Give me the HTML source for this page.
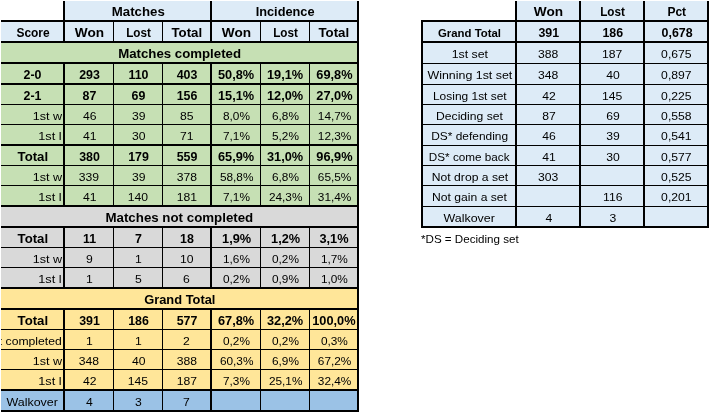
<!DOCTYPE html>
<html><head><meta charset="utf-8"><title>Match statistics</title><style>
html,body{margin:0;padding:0;background:#fff;}
body{width:709px;height:412px;position:relative;overflow:hidden;font-family:"Liberation Sans",sans-serif;color:#000;}
#tx{position:absolute;left:0;top:0;width:709px;height:412px;will-change:transform;}
.r{position:absolute;}
.t{position:absolute;height:19px;line-height:19px;white-space:nowrap;overflow:hidden;}
.t span{display:inline-block;}
.b{font-weight:bold;font-size:12.4px;}
.n{font-size:11.6px;color:#000;}
</style></head><body>
<div class="r" style="left:65px;top:1px;width:292px;height:21px;background:#DDEBF7"></div>
<div class="r" style="left:1px;top:20px;width:356px;height:23px;background:#DDEBF7"></div>
<div class="r" style="left:1px;top:41px;width:356px;height:23px;background:#C6E0B4"></div>
<div class="r" style="left:1px;top:62px;width:356px;height:23px;background:#C6E0B4"></div>
<div class="r" style="left:1px;top:83px;width:356px;height:22px;background:#C6E0B4"></div>
<div class="r" style="left:1px;top:104px;width:356px;height:21px;background:#C6E0B4"></div>
<div class="r" style="left:1px;top:124px;width:356px;height:22px;background:#C6E0B4"></div>
<div class="r" style="left:1px;top:144px;width:356px;height:22px;background:#C6E0B4"></div>
<div class="r" style="left:1px;top:165px;width:356px;height:21px;background:#C6E0B4"></div>
<div class="r" style="left:1px;top:185px;width:356px;height:22px;background:#C6E0B4"></div>
<div class="r" style="left:1px;top:205px;width:356px;height:23px;background:#D9D9D9"></div>
<div class="r" style="left:1px;top:226px;width:356px;height:22px;background:#D9D9D9"></div>
<div class="r" style="left:1px;top:247px;width:356px;height:21px;background:#D9D9D9"></div>
<div class="r" style="left:1px;top:267px;width:356px;height:22px;background:#D9D9D9"></div>
<div class="r" style="left:1px;top:287px;width:356px;height:23px;background:#FFE699"></div>
<div class="r" style="left:1px;top:308px;width:356px;height:22px;background:#FFE699"></div>
<div class="r" style="left:1px;top:329px;width:356px;height:21px;background:#FFE699"></div>
<div class="r" style="left:1px;top:349px;width:356px;height:21px;background:#FFE699"></div>
<div class="r" style="left:1px;top:369px;width:356px;height:22px;background:#FFE699"></div>
<div class="r" style="left:1px;top:389px;width:356px;height:23px;background:#9BC2E6"></div>
<div class="r" style="left:1px;top:20px;width:358px;height:2px;background:#000"></div>
<div class="r" style="left:1px;top:41px;width:358px;height:2px;background:#000"></div>
<div class="r" style="left:1px;top:62px;width:358px;height:2px;background:#000"></div>
<div class="r" style="left:1px;top:83px;width:358px;height:2px;background:#000"></div>
<div class="r" style="left:1px;top:104px;width:358px;height:1px;background:#000"></div>
<div class="r" style="left:1px;top:124px;width:358px;height:1px;background:#000"></div>
<div class="r" style="left:1px;top:144px;width:358px;height:2px;background:#000"></div>
<div class="r" style="left:1px;top:165px;width:358px;height:1px;background:#000"></div>
<div class="r" style="left:1px;top:185px;width:358px;height:1px;background:#000"></div>
<div class="r" style="left:1px;top:205px;width:358px;height:2px;background:#000"></div>
<div class="r" style="left:1px;top:226px;width:358px;height:2px;background:#000"></div>
<div class="r" style="left:1px;top:247px;width:358px;height:1px;background:#000"></div>
<div class="r" style="left:1px;top:267px;width:358px;height:1px;background:#000"></div>
<div class="r" style="left:1px;top:287px;width:358px;height:2px;background:#000"></div>
<div class="r" style="left:1px;top:308px;width:358px;height:2px;background:#000"></div>
<div class="r" style="left:1px;top:329px;width:358px;height:1px;background:#000"></div>
<div class="r" style="left:1px;top:349px;width:358px;height:1px;background:#000"></div>
<div class="r" style="left:1px;top:369px;width:358px;height:1px;background:#000"></div>
<div class="r" style="left:1px;top:389px;width:358px;height:2px;background:#000"></div>
<div class="r" style="left:1px;top:410px;width:358px;height:2px;background:#000"></div>
<div class="r" style="left:63px;top:1px;width:2px;height:21px;background:#000"></div>
<div class="r" style="left:63px;top:20px;width:2px;height:23px;background:#000"></div>
<div class="r" style="left:63px;top:62px;width:2px;height:23px;background:#000"></div>
<div class="r" style="left:63px;top:83px;width:2px;height:22px;background:#000"></div>
<div class="r" style="left:63px;top:104px;width:2px;height:21px;background:#000"></div>
<div class="r" style="left:63px;top:124px;width:2px;height:22px;background:#000"></div>
<div class="r" style="left:63px;top:144px;width:2px;height:22px;background:#000"></div>
<div class="r" style="left:63px;top:165px;width:2px;height:21px;background:#000"></div>
<div class="r" style="left:63px;top:185px;width:2px;height:22px;background:#000"></div>
<div class="r" style="left:63px;top:226px;width:2px;height:22px;background:#000"></div>
<div class="r" style="left:63px;top:247px;width:2px;height:21px;background:#000"></div>
<div class="r" style="left:63px;top:267px;width:2px;height:22px;background:#000"></div>
<div class="r" style="left:63px;top:308px;width:2px;height:22px;background:#000"></div>
<div class="r" style="left:63px;top:329px;width:2px;height:21px;background:#000"></div>
<div class="r" style="left:63px;top:349px;width:2px;height:21px;background:#000"></div>
<div class="r" style="left:63px;top:369px;width:2px;height:22px;background:#000"></div>
<div class="r" style="left:63px;top:389px;width:2px;height:23px;background:#000"></div>
<div class="r" style="left:113px;top:20px;width:1px;height:23px;background:#000"></div>
<div class="r" style="left:113px;top:62px;width:1px;height:23px;background:#000"></div>
<div class="r" style="left:113px;top:83px;width:1px;height:22px;background:#000"></div>
<div class="r" style="left:113px;top:104px;width:1px;height:21px;background:#000"></div>
<div class="r" style="left:113px;top:124px;width:1px;height:22px;background:#000"></div>
<div class="r" style="left:113px;top:144px;width:1px;height:22px;background:#000"></div>
<div class="r" style="left:113px;top:165px;width:1px;height:21px;background:#000"></div>
<div class="r" style="left:113px;top:185px;width:1px;height:22px;background:#000"></div>
<div class="r" style="left:113px;top:226px;width:1px;height:22px;background:#000"></div>
<div class="r" style="left:113px;top:247px;width:1px;height:21px;background:#000"></div>
<div class="r" style="left:113px;top:267px;width:1px;height:22px;background:#000"></div>
<div class="r" style="left:113px;top:308px;width:1px;height:22px;background:#000"></div>
<div class="r" style="left:113px;top:329px;width:1px;height:21px;background:#000"></div>
<div class="r" style="left:113px;top:349px;width:1px;height:21px;background:#000"></div>
<div class="r" style="left:113px;top:369px;width:1px;height:22px;background:#000"></div>
<div class="r" style="left:113px;top:389px;width:1px;height:23px;background:#000"></div>
<div class="r" style="left:162px;top:20px;width:1px;height:23px;background:#000"></div>
<div class="r" style="left:162px;top:62px;width:1px;height:23px;background:#000"></div>
<div class="r" style="left:162px;top:83px;width:1px;height:22px;background:#000"></div>
<div class="r" style="left:162px;top:104px;width:1px;height:21px;background:#000"></div>
<div class="r" style="left:162px;top:124px;width:1px;height:22px;background:#000"></div>
<div class="r" style="left:162px;top:144px;width:1px;height:22px;background:#000"></div>
<div class="r" style="left:162px;top:165px;width:1px;height:21px;background:#000"></div>
<div class="r" style="left:162px;top:185px;width:1px;height:22px;background:#000"></div>
<div class="r" style="left:162px;top:226px;width:1px;height:22px;background:#000"></div>
<div class="r" style="left:162px;top:247px;width:1px;height:21px;background:#000"></div>
<div class="r" style="left:162px;top:267px;width:1px;height:22px;background:#000"></div>
<div class="r" style="left:162px;top:308px;width:1px;height:22px;background:#000"></div>
<div class="r" style="left:162px;top:329px;width:1px;height:21px;background:#000"></div>
<div class="r" style="left:162px;top:349px;width:1px;height:21px;background:#000"></div>
<div class="r" style="left:162px;top:369px;width:1px;height:22px;background:#000"></div>
<div class="r" style="left:162px;top:389px;width:1px;height:23px;background:#000"></div>
<div class="r" style="left:210px;top:1px;width:2px;height:21px;background:#000"></div>
<div class="r" style="left:210px;top:20px;width:2px;height:23px;background:#000"></div>
<div class="r" style="left:210px;top:62px;width:2px;height:23px;background:#000"></div>
<div class="r" style="left:210px;top:83px;width:2px;height:22px;background:#000"></div>
<div class="r" style="left:210px;top:104px;width:2px;height:21px;background:#000"></div>
<div class="r" style="left:210px;top:124px;width:2px;height:22px;background:#000"></div>
<div class="r" style="left:210px;top:144px;width:2px;height:22px;background:#000"></div>
<div class="r" style="left:210px;top:165px;width:2px;height:21px;background:#000"></div>
<div class="r" style="left:210px;top:185px;width:2px;height:22px;background:#000"></div>
<div class="r" style="left:210px;top:226px;width:2px;height:22px;background:#000"></div>
<div class="r" style="left:210px;top:247px;width:2px;height:21px;background:#000"></div>
<div class="r" style="left:210px;top:267px;width:2px;height:22px;background:#000"></div>
<div class="r" style="left:210px;top:308px;width:2px;height:22px;background:#000"></div>
<div class="r" style="left:210px;top:329px;width:2px;height:21px;background:#000"></div>
<div class="r" style="left:210px;top:349px;width:2px;height:21px;background:#000"></div>
<div class="r" style="left:210px;top:369px;width:2px;height:22px;background:#000"></div>
<div class="r" style="left:210px;top:389px;width:2px;height:23px;background:#000"></div>
<div class="r" style="left:260px;top:20px;width:1px;height:23px;background:#000"></div>
<div class="r" style="left:260px;top:62px;width:1px;height:23px;background:#000"></div>
<div class="r" style="left:260px;top:83px;width:1px;height:22px;background:#000"></div>
<div class="r" style="left:260px;top:104px;width:1px;height:21px;background:#000"></div>
<div class="r" style="left:260px;top:124px;width:1px;height:22px;background:#000"></div>
<div class="r" style="left:260px;top:144px;width:1px;height:22px;background:#000"></div>
<div class="r" style="left:260px;top:165px;width:1px;height:21px;background:#000"></div>
<div class="r" style="left:260px;top:185px;width:1px;height:22px;background:#000"></div>
<div class="r" style="left:260px;top:226px;width:1px;height:22px;background:#000"></div>
<div class="r" style="left:260px;top:247px;width:1px;height:21px;background:#000"></div>
<div class="r" style="left:260px;top:267px;width:1px;height:22px;background:#000"></div>
<div class="r" style="left:260px;top:308px;width:1px;height:22px;background:#000"></div>
<div class="r" style="left:260px;top:329px;width:1px;height:21px;background:#000"></div>
<div class="r" style="left:260px;top:349px;width:1px;height:21px;background:#000"></div>
<div class="r" style="left:260px;top:369px;width:1px;height:22px;background:#000"></div>
<div class="r" style="left:260px;top:389px;width:1px;height:23px;background:#000"></div>
<div class="r" style="left:309px;top:20px;width:1px;height:23px;background:#000"></div>
<div class="r" style="left:309px;top:62px;width:1px;height:23px;background:#000"></div>
<div class="r" style="left:309px;top:83px;width:1px;height:22px;background:#000"></div>
<div class="r" style="left:309px;top:104px;width:1px;height:21px;background:#000"></div>
<div class="r" style="left:309px;top:124px;width:1px;height:22px;background:#000"></div>
<div class="r" style="left:309px;top:144px;width:1px;height:22px;background:#000"></div>
<div class="r" style="left:309px;top:165px;width:1px;height:21px;background:#000"></div>
<div class="r" style="left:309px;top:185px;width:1px;height:22px;background:#000"></div>
<div class="r" style="left:309px;top:226px;width:1px;height:22px;background:#000"></div>
<div class="r" style="left:309px;top:247px;width:1px;height:21px;background:#000"></div>
<div class="r" style="left:309px;top:267px;width:1px;height:22px;background:#000"></div>
<div class="r" style="left:309px;top:308px;width:1px;height:22px;background:#000"></div>
<div class="r" style="left:309px;top:329px;width:1px;height:21px;background:#000"></div>
<div class="r" style="left:309px;top:349px;width:1px;height:21px;background:#000"></div>
<div class="r" style="left:309px;top:369px;width:1px;height:22px;background:#000"></div>
<div class="r" style="left:309px;top:389px;width:1px;height:23px;background:#000"></div>
<div class="r" style="left:357px;top:1px;width:2px;height:21px;background:#000"></div>
<div class="r" style="left:357px;top:20px;width:2px;height:23px;background:#000"></div>
<div class="r" style="left:357px;top:41px;width:2px;height:23px;background:#000"></div>
<div class="r" style="left:357px;top:62px;width:2px;height:23px;background:#000"></div>
<div class="r" style="left:357px;top:83px;width:2px;height:22px;background:#000"></div>
<div class="r" style="left:357px;top:104px;width:2px;height:21px;background:#000"></div>
<div class="r" style="left:357px;top:124px;width:2px;height:22px;background:#000"></div>
<div class="r" style="left:357px;top:144px;width:2px;height:22px;background:#000"></div>
<div class="r" style="left:357px;top:165px;width:2px;height:21px;background:#000"></div>
<div class="r" style="left:357px;top:185px;width:2px;height:22px;background:#000"></div>
<div class="r" style="left:357px;top:205px;width:2px;height:23px;background:#000"></div>
<div class="r" style="left:357px;top:226px;width:2px;height:22px;background:#000"></div>
<div class="r" style="left:357px;top:247px;width:2px;height:21px;background:#000"></div>
<div class="r" style="left:357px;top:267px;width:2px;height:22px;background:#000"></div>
<div class="r" style="left:357px;top:287px;width:2px;height:23px;background:#000"></div>
<div class="r" style="left:357px;top:308px;width:2px;height:22px;background:#000"></div>
<div class="r" style="left:357px;top:329px;width:2px;height:21px;background:#000"></div>
<div class="r" style="left:357px;top:349px;width:2px;height:21px;background:#000"></div>
<div class="r" style="left:357px;top:369px;width:2px;height:22px;background:#000"></div>
<div class="r" style="left:357px;top:389px;width:2px;height:23px;background:#000"></div>
<div class="r" style="left:515px;top:1px;width:194px;height:20px;background:#DDEBF7"></div>
<div class="r" style="left:421px;top:20px;width:288px;height:208px;background:#DDEBF7"></div>
<div class="r" style="left:421px;top:20px;width:288px;height:2px;background:#000"></div>
<div class="r" style="left:421px;top:41px;width:288px;height:2px;background:#000"></div>
<div class="r" style="left:421px;top:63px;width:288px;height:1px;background:#000"></div>
<div class="r" style="left:421px;top:84px;width:288px;height:1px;background:#000"></div>
<div class="r" style="left:421px;top:104px;width:288px;height:1px;background:#000"></div>
<div class="r" style="left:421px;top:124px;width:288px;height:1px;background:#000"></div>
<div class="r" style="left:421px;top:145px;width:288px;height:1px;background:#000"></div>
<div class="r" style="left:421px;top:165px;width:288px;height:1px;background:#000"></div>
<div class="r" style="left:421px;top:185px;width:288px;height:1px;background:#000"></div>
<div class="r" style="left:421px;top:206px;width:288px;height:1px;background:#000"></div>
<div class="r" style="left:421px;top:226px;width:288px;height:2px;background:#000"></div>
<div class="r" style="left:421px;top:20px;width:2px;height:208px;background:#000"></div>
<div class="r" style="left:515px;top:1px;width:2px;height:227px;background:#000"></div>
<div class="r" style="left:579px;top:1px;width:2px;height:227px;background:#000"></div>
<div class="r" style="left:643px;top:1px;width:2px;height:227px;background:#000"></div>
<div class="r" style="left:707px;top:1px;width:2px;height:227px;background:#000"></div>
<div id="tx">
<div class="t b" style="left:65px;top:3.0px;width:145px;text-align:center"><span id="t0" style="transform:translateX(0.50px) scaleX(1.0670);transform-origin:center center;">Matches</span></div>
<div class="t b" style="left:212px;top:3.0px;width:145px;text-align:center"><span id="t1" style="transform:translateX(0.50px) scaleX(1.0300);transform-origin:center center;">Incidence</span></div>
<div class="t b" style="left:1px;top:24.0px;width:62px;text-align:center"><span id="t2" style="transform:translateX(0.80px) scaleX(0.9650);transform-origin:center center;">Score</span></div>
<div class="t b" style="left:65px;top:24.0px;width:48px;text-align:center"><span id="t3" style="transform:translateX(0.20px) scaleX(1.1000);transform-origin:center center;">Won</span></div>
<div class="t b" style="left:114px;top:24.0px;width:48px;text-align:center"><span id="t4" style="transform:translateX(0.50px) scaleX(0.9460);transform-origin:center center;">Lost</span></div>
<div class="t b" style="left:163px;top:24.0px;width:47px;text-align:center"><span id="t5" style="transform:translateX(0.50px) scaleX(1.0700);transform-origin:center center;">Total</span></div>
<div class="t b" style="left:212px;top:24.0px;width:48px;text-align:center"><span id="t6" style="transform:translateX(0.20px) scaleX(1.1000);transform-origin:center center;">Won</span></div>
<div class="t b" style="left:261px;top:24.0px;width:48px;text-align:center"><span id="t7" style="transform:translateX(0.50px) scaleX(0.9460);transform-origin:center center;">Lost</span></div>
<div class="t b" style="left:310px;top:24.0px;width:47px;text-align:center"><span id="t8" style="transform:translateX(0.50px) scaleX(1.0700);transform-origin:center center;">Total</span></div>
<div class="t b" style="left:1px;top:45.0px;width:356px;text-align:center"><span id="t9" style="transform:translateX(0.10px) scaleX(1.0680);transform-origin:center center;">Matches completed</span></div>
<div class="t b" style="left:1px;top:209.0px;width:356px;text-align:center"><span id="t10" style="transform:translateX(0.50px) scaleX(1.0730);transform-origin:center center;">Matches not completed</span></div>
<div class="t b" style="left:1px;top:291.0px;width:356px;text-align:center"><span id="t11" style="transform:translateX(0.50px) scaleX(1.0380);transform-origin:center center;">Grand Total</span></div>
<div class="t b" style="left:1px;top:66.0px;width:62px;text-align:center"><span id="t12" style="transform:translateX(0.50px) scaleX(1.0000);transform-origin:center center;">2-0</span></div>
<div class="t b" style="left:65px;top:66.0px;width:48px;text-align:center"><span id="t13" style="transform:translateX(0.50px) scaleX(1.0000);transform-origin:center center;">293</span></div>
<div class="t b" style="left:114px;top:66.0px;width:48px;text-align:center"><span id="t14" style="transform:translateX(0.50px) scaleX(1.0000);transform-origin:center center;">110</span></div>
<div class="t b" style="left:163px;top:66.0px;width:47px;text-align:center"><span id="t15" style="transform:translateX(0.50px) scaleX(1.0000);transform-origin:center center;">403</span></div>
<div class="t b" style="left:212px;top:66.0px;width:48px;text-align:center"><span id="t16" style="transform:translateX(0.50px) scaleX(1.0300);transform-origin:center center;">50,8%</span></div>
<div class="t b" style="left:261px;top:66.0px;width:48px;text-align:center"><span id="t17" style="transform:translateX(0.50px) scaleX(1.0300);transform-origin:center center;">19,1%</span></div>
<div class="t b" style="left:310px;top:66.0px;width:47px;text-align:center"><span id="t18" style="transform:translateX(0.90px) scaleX(1.0300);transform-origin:center center;">69,8%</span></div>
<div class="t b" style="left:1px;top:87.0px;width:62px;text-align:center"><span id="t19" style="transform:translateX(0.50px) scaleX(1.0000);transform-origin:center center;">2-1</span></div>
<div class="t b" style="left:65px;top:87.0px;width:48px;text-align:center"><span id="t20" style="transform:translateX(0.50px) scaleX(1.0000);transform-origin:center center;">87</span></div>
<div class="t b" style="left:114px;top:87.0px;width:48px;text-align:center"><span id="t21" style="transform:translateX(0.50px) scaleX(1.0000);transform-origin:center center;">69</span></div>
<div class="t b" style="left:163px;top:87.0px;width:47px;text-align:center"><span id="t22" style="transform:translateX(0.50px) scaleX(1.0000);transform-origin:center center;">156</span></div>
<div class="t b" style="left:212px;top:87.0px;width:48px;text-align:center"><span id="t23" style="transform:translateX(0.50px) scaleX(1.0300);transform-origin:center center;">15,1%</span></div>
<div class="t b" style="left:261px;top:87.0px;width:48px;text-align:center"><span id="t24" style="transform:translateX(0.50px) scaleX(1.0300);transform-origin:center center;">12,0%</span></div>
<div class="t b" style="left:310px;top:87.0px;width:47px;text-align:center"><span id="t25" style="transform:translateX(0.90px) scaleX(1.0300);transform-origin:center center;">27,0%</span></div>
<div class="t n" style="left:1px;top:106.0px;width:62px;text-align:right"><span id="t26" style="position:absolute;right:1px;top:0;transform:translateX(0.00px) scaleX(1.0850);transform-origin:right center;">1st w</span></div>
<div class="t n" style="left:65px;top:106.0px;width:48px;text-align:center"><span id="t27" style="transform:translateX(0.25px) scaleX(1.0500);transform-origin:center center;">46</span></div>
<div class="t n" style="left:114px;top:106.0px;width:48px;text-align:center"><span id="t28" style="transform:translateX(0.25px) scaleX(1.0500);transform-origin:center center;">39</span></div>
<div class="t n" style="left:163px;top:106.0px;width:47px;text-align:center"><span id="t29" style="transform:translateX(0.25px) scaleX(1.0500);transform-origin:center center;">85</span></div>
<div class="t n" style="left:212px;top:106.0px;width:48px;text-align:center"><span id="t30" style="transform:translateX(0.25px) scaleX(1.0200);transform-origin:center center;">8,0%</span></div>
<div class="t n" style="left:261px;top:106.0px;width:48px;text-align:center"><span id="t31" style="transform:translateX(0.25px) scaleX(1.0200);transform-origin:center center;">6,8%</span></div>
<div class="t n" style="left:310px;top:106.0px;width:47px;text-align:center"><span id="t32" style="transform:translateX(1.15px) scaleX(1.0200);transform-origin:center center;">14,7%</span></div>
<div class="t n" style="left:1px;top:126.0px;width:62px;text-align:right"><span id="t33" style="position:absolute;right:1px;top:0;transform:translateX(-0.70px) scaleX(1.1000);transform-origin:right center;">1st l</span></div>
<div class="t n" style="left:65px;top:126.0px;width:48px;text-align:center"><span id="t34" style="transform:translateX(0.25px) scaleX(1.0500);transform-origin:center center;">41</span></div>
<div class="t n" style="left:114px;top:126.0px;width:48px;text-align:center"><span id="t35" style="transform:translateX(0.25px) scaleX(1.0500);transform-origin:center center;">30</span></div>
<div class="t n" style="left:163px;top:126.0px;width:47px;text-align:center"><span id="t36" style="transform:translateX(0.25px) scaleX(1.0500);transform-origin:center center;">71</span></div>
<div class="t n" style="left:212px;top:126.0px;width:48px;text-align:center"><span id="t37" style="transform:translateX(0.25px) scaleX(1.0200);transform-origin:center center;">7,1%</span></div>
<div class="t n" style="left:261px;top:126.0px;width:48px;text-align:center"><span id="t38" style="transform:translateX(0.25px) scaleX(1.0200);transform-origin:center center;">5,2%</span></div>
<div class="t n" style="left:310px;top:126.0px;width:47px;text-align:center"><span id="t39" style="transform:translateX(1.15px) scaleX(1.0200);transform-origin:center center;">12,3%</span></div>
<div class="t b" style="left:1px;top:148.0px;width:62px;text-align:center"><span id="t40" style="transform:translateX(0.50px) scaleX(1.0640);transform-origin:center center;">Total</span></div>
<div class="t b" style="left:65px;top:148.0px;width:48px;text-align:center"><span id="t41" style="transform:translateX(0.50px) scaleX(1.0000);transform-origin:center center;">380</span></div>
<div class="t b" style="left:114px;top:148.0px;width:48px;text-align:center"><span id="t42" style="transform:translateX(0.50px) scaleX(1.0000);transform-origin:center center;">179</span></div>
<div class="t b" style="left:163px;top:148.0px;width:47px;text-align:center"><span id="t43" style="transform:translateX(0.50px) scaleX(1.0000);transform-origin:center center;">559</span></div>
<div class="t b" style="left:212px;top:148.0px;width:48px;text-align:center"><span id="t44" style="transform:translateX(0.50px) scaleX(1.0300);transform-origin:center center;">65,9%</span></div>
<div class="t b" style="left:261px;top:148.0px;width:48px;text-align:center"><span id="t45" style="transform:translateX(0.50px) scaleX(1.0300);transform-origin:center center;">31,0%</span></div>
<div class="t b" style="left:310px;top:148.0px;width:47px;text-align:center"><span id="t46" style="transform:translateX(0.90px) scaleX(1.0300);transform-origin:center center;">96,9%</span></div>
<div class="t n" style="left:1px;top:167.0px;width:62px;text-align:right"><span id="t47" style="position:absolute;right:1px;top:0;transform:translateX(0.00px) scaleX(1.0850);transform-origin:right center;">1st w</span></div>
<div class="t n" style="left:65px;top:167.0px;width:48px;text-align:center"><span id="t48" style="transform:translateX(0.25px) scaleX(1.0500);transform-origin:center center;">339</span></div>
<div class="t n" style="left:114px;top:167.0px;width:48px;text-align:center"><span id="t49" style="transform:translateX(0.25px) scaleX(1.0500);transform-origin:center center;">39</span></div>
<div class="t n" style="left:163px;top:167.0px;width:47px;text-align:center"><span id="t50" style="transform:translateX(0.25px) scaleX(1.0500);transform-origin:center center;">378</span></div>
<div class="t n" style="left:212px;top:167.0px;width:48px;text-align:center"><span id="t51" style="transform:translateX(0.25px) scaleX(1.0200);transform-origin:center center;">58,8%</span></div>
<div class="t n" style="left:261px;top:167.0px;width:48px;text-align:center"><span id="t52" style="transform:translateX(0.25px) scaleX(1.0200);transform-origin:center center;">6,8%</span></div>
<div class="t n" style="left:310px;top:167.0px;width:47px;text-align:center"><span id="t53" style="transform:translateX(1.15px) scaleX(1.0200);transform-origin:center center;">65,5%</span></div>
<div class="t n" style="left:1px;top:187.0px;width:62px;text-align:right"><span id="t54" style="position:absolute;right:1px;top:0;transform:translateX(-0.70px) scaleX(1.1000);transform-origin:right center;">1st l</span></div>
<div class="t n" style="left:65px;top:187.0px;width:48px;text-align:center"><span id="t55" style="transform:translateX(0.25px) scaleX(1.0500);transform-origin:center center;">41</span></div>
<div class="t n" style="left:114px;top:187.0px;width:48px;text-align:center"><span id="t56" style="transform:translateX(0.25px) scaleX(1.0500);transform-origin:center center;">140</span></div>
<div class="t n" style="left:163px;top:187.0px;width:47px;text-align:center"><span id="t57" style="transform:translateX(0.25px) scaleX(1.0500);transform-origin:center center;">181</span></div>
<div class="t n" style="left:212px;top:187.0px;width:48px;text-align:center"><span id="t58" style="transform:translateX(0.25px) scaleX(1.0200);transform-origin:center center;">7,1%</span></div>
<div class="t n" style="left:261px;top:187.0px;width:48px;text-align:center"><span id="t59" style="transform:translateX(0.25px) scaleX(1.0200);transform-origin:center center;">24,3%</span></div>
<div class="t n" style="left:310px;top:187.0px;width:47px;text-align:center"><span id="t60" style="transform:translateX(1.15px) scaleX(1.0200);transform-origin:center center;">31,4%</span></div>
<div class="t b" style="left:1px;top:230.0px;width:62px;text-align:center"><span id="t61" style="transform:translateX(0.50px) scaleX(1.0640);transform-origin:center center;">Total</span></div>
<div class="t b" style="left:65px;top:230.0px;width:48px;text-align:center"><span id="t62" style="transform:translateX(0.50px) scaleX(1.0000);transform-origin:center center;">11</span></div>
<div class="t b" style="left:114px;top:230.0px;width:48px;text-align:center"><span id="t63" style="transform:translateX(0.50px) scaleX(1.0000);transform-origin:center center;">7</span></div>
<div class="t b" style="left:163px;top:230.0px;width:47px;text-align:center"><span id="t64" style="transform:translateX(0.50px) scaleX(1.0000);transform-origin:center center;">18</span></div>
<div class="t b" style="left:212px;top:230.0px;width:48px;text-align:center"><span id="t65" style="transform:translateX(0.50px) scaleX(1.0300);transform-origin:center center;">1,9%</span></div>
<div class="t b" style="left:261px;top:230.0px;width:48px;text-align:center"><span id="t66" style="transform:translateX(0.50px) scaleX(1.0300);transform-origin:center center;">1,2%</span></div>
<div class="t b" style="left:310px;top:230.0px;width:47px;text-align:center"><span id="t67" style="transform:translateX(0.90px) scaleX(1.0300);transform-origin:center center;">3,1%</span></div>
<div class="t n" style="left:1px;top:249.0px;width:62px;text-align:right"><span id="t68" style="position:absolute;right:1px;top:0;transform:translateX(0.00px) scaleX(1.0850);transform-origin:right center;">1st w</span></div>
<div class="t n" style="left:65px;top:249.0px;width:48px;text-align:center"><span id="t69" style="transform:translateX(0.25px) scaleX(1.0500);transform-origin:center center;">9</span></div>
<div class="t n" style="left:114px;top:249.0px;width:48px;text-align:center"><span id="t70" style="transform:translateX(0.25px) scaleX(1.0500);transform-origin:center center;">1</span></div>
<div class="t n" style="left:163px;top:249.0px;width:47px;text-align:center"><span id="t71" style="transform:translateX(0.25px) scaleX(1.0500);transform-origin:center center;">10</span></div>
<div class="t n" style="left:212px;top:249.0px;width:48px;text-align:center"><span id="t72" style="transform:translateX(0.25px) scaleX(1.0200);transform-origin:center center;">1,6%</span></div>
<div class="t n" style="left:261px;top:249.0px;width:48px;text-align:center"><span id="t73" style="transform:translateX(0.25px) scaleX(1.0200);transform-origin:center center;">0,2%</span></div>
<div class="t n" style="left:310px;top:249.0px;width:47px;text-align:center"><span id="t74" style="transform:translateX(1.15px) scaleX(1.0200);transform-origin:center center;">1,7%</span></div>
<div class="t n" style="left:1px;top:269.0px;width:62px;text-align:right"><span id="t75" style="position:absolute;right:1px;top:0;transform:translateX(-0.70px) scaleX(1.1000);transform-origin:right center;">1st l</span></div>
<div class="t n" style="left:65px;top:269.0px;width:48px;text-align:center"><span id="t76" style="transform:translateX(0.25px) scaleX(1.0500);transform-origin:center center;">1</span></div>
<div class="t n" style="left:114px;top:269.0px;width:48px;text-align:center"><span id="t77" style="transform:translateX(0.25px) scaleX(1.0500);transform-origin:center center;">5</span></div>
<div class="t n" style="left:163px;top:269.0px;width:47px;text-align:center"><span id="t78" style="transform:translateX(0.25px) scaleX(1.0500);transform-origin:center center;">6</span></div>
<div class="t n" style="left:212px;top:269.0px;width:48px;text-align:center"><span id="t79" style="transform:translateX(0.25px) scaleX(1.0200);transform-origin:center center;">0,2%</span></div>
<div class="t n" style="left:261px;top:269.0px;width:48px;text-align:center"><span id="t80" style="transform:translateX(0.25px) scaleX(1.0200);transform-origin:center center;">0,9%</span></div>
<div class="t n" style="left:310px;top:269.0px;width:47px;text-align:center"><span id="t81" style="transform:translateX(1.15px) scaleX(1.0200);transform-origin:center center;">1,0%</span></div>
<div class="t b" style="left:1px;top:312.0px;width:62px;text-align:center"><span id="t82" style="transform:translateX(0.50px) scaleX(1.0640);transform-origin:center center;">Total</span></div>
<div class="t b" style="left:65px;top:312.0px;width:48px;text-align:center"><span id="t83" style="transform:translateX(0.50px) scaleX(1.0000);transform-origin:center center;">391</span></div>
<div class="t b" style="left:114px;top:312.0px;width:48px;text-align:center"><span id="t84" style="transform:translateX(0.50px) scaleX(1.0000);transform-origin:center center;">186</span></div>
<div class="t b" style="left:163px;top:312.0px;width:47px;text-align:center"><span id="t85" style="transform:translateX(0.50px) scaleX(1.0000);transform-origin:center center;">577</span></div>
<div class="t b" style="left:212px;top:312.0px;width:48px;text-align:center"><span id="t86" style="transform:translateX(0.50px) scaleX(1.0300);transform-origin:center center;">67,8%</span></div>
<div class="t b" style="left:261px;top:312.0px;width:48px;text-align:center"><span id="t87" style="transform:translateX(0.50px) scaleX(1.0300);transform-origin:center center;">32,2%</span></div>
<div class="t b" style="left:310px;top:312.0px;width:47px;text-align:center"><span id="t88" style="transform:translateX(0.90px) scaleX(1.0300);transform-origin:center center;">100,0%</span></div>
<div class="t n" style="left:1px;top:331.0px;width:62px;text-align:right"><span id="t89" style="position:absolute;right:1px;top:0;transform:translateX(0.00px) scaleX(1.0500);transform-origin:right center;">Not completed</span></div>
<div class="t n" style="left:65px;top:331.0px;width:48px;text-align:center"><span id="t90" style="transform:translateX(0.25px) scaleX(1.0500);transform-origin:center center;">1</span></div>
<div class="t n" style="left:114px;top:331.0px;width:48px;text-align:center"><span id="t91" style="transform:translateX(0.25px) scaleX(1.0500);transform-origin:center center;">1</span></div>
<div class="t n" style="left:163px;top:331.0px;width:47px;text-align:center"><span id="t92" style="transform:translateX(0.25px) scaleX(1.0500);transform-origin:center center;">2</span></div>
<div class="t n" style="left:212px;top:331.0px;width:48px;text-align:center"><span id="t93" style="transform:translateX(0.25px) scaleX(1.0200);transform-origin:center center;">0,2%</span></div>
<div class="t n" style="left:261px;top:331.0px;width:48px;text-align:center"><span id="t94" style="transform:translateX(0.25px) scaleX(1.0200);transform-origin:center center;">0,2%</span></div>
<div class="t n" style="left:310px;top:331.0px;width:47px;text-align:center"><span id="t95" style="transform:translateX(1.15px) scaleX(1.0200);transform-origin:center center;">0,3%</span></div>
<div class="t n" style="left:1px;top:351.0px;width:62px;text-align:right"><span id="t96" style="position:absolute;right:1px;top:0;transform:translateX(0.00px) scaleX(1.0850);transform-origin:right center;">1st w</span></div>
<div class="t n" style="left:65px;top:351.0px;width:48px;text-align:center"><span id="t97" style="transform:translateX(0.25px) scaleX(1.0500);transform-origin:center center;">348</span></div>
<div class="t n" style="left:114px;top:351.0px;width:48px;text-align:center"><span id="t98" style="transform:translateX(0.25px) scaleX(1.0500);transform-origin:center center;">40</span></div>
<div class="t n" style="left:163px;top:351.0px;width:47px;text-align:center"><span id="t99" style="transform:translateX(0.25px) scaleX(1.0500);transform-origin:center center;">388</span></div>
<div class="t n" style="left:212px;top:351.0px;width:48px;text-align:center"><span id="t100" style="transform:translateX(0.25px) scaleX(1.0200);transform-origin:center center;">60,3%</span></div>
<div class="t n" style="left:261px;top:351.0px;width:48px;text-align:center"><span id="t101" style="transform:translateX(0.25px) scaleX(1.0200);transform-origin:center center;">6,9%</span></div>
<div class="t n" style="left:310px;top:351.0px;width:47px;text-align:center"><span id="t102" style="transform:translateX(1.15px) scaleX(1.0200);transform-origin:center center;">67,2%</span></div>
<div class="t n" style="left:1px;top:371.0px;width:62px;text-align:right"><span id="t103" style="position:absolute;right:1px;top:0;transform:translateX(-0.70px) scaleX(1.1000);transform-origin:right center;">1st l</span></div>
<div class="t n" style="left:65px;top:371.0px;width:48px;text-align:center"><span id="t104" style="transform:translateX(0.25px) scaleX(1.0500);transform-origin:center center;">42</span></div>
<div class="t n" style="left:114px;top:371.0px;width:48px;text-align:center"><span id="t105" style="transform:translateX(0.25px) scaleX(1.0500);transform-origin:center center;">145</span></div>
<div class="t n" style="left:163px;top:371.0px;width:47px;text-align:center"><span id="t106" style="transform:translateX(0.25px) scaleX(1.0500);transform-origin:center center;">187</span></div>
<div class="t n" style="left:212px;top:371.0px;width:48px;text-align:center"><span id="t107" style="transform:translateX(0.25px) scaleX(1.0200);transform-origin:center center;">7,3%</span></div>
<div class="t n" style="left:261px;top:371.0px;width:48px;text-align:center"><span id="t108" style="transform:translateX(0.25px) scaleX(1.0200);transform-origin:center center;">25,1%</span></div>
<div class="t n" style="left:310px;top:371.0px;width:47px;text-align:center"><span id="t109" style="transform:translateX(1.15px) scaleX(1.0200);transform-origin:center center;">32,4%</span></div>
<div class="t n" style="left:1px;top:392.0px;width:62px;text-align:center"><span id="t110" style="transform:translateX(0.25px) scaleX(1.0730);transform-origin:center center;">Walkover</span></div>
<div class="t n" style="left:65px;top:392.0px;width:48px;text-align:center"><span id="t111" style="transform:translateX(0.25px) scaleX(1.0500);transform-origin:center center;">4</span></div>
<div class="t n" style="left:114px;top:392.0px;width:48px;text-align:center"><span id="t112" style="transform:translateX(0.25px) scaleX(1.0500);transform-origin:center center;">3</span></div>
<div class="t n" style="left:163px;top:392.0px;width:47px;text-align:center"><span id="t113" style="transform:translateX(0.25px) scaleX(1.0500);transform-origin:center center;">7</span></div>
<div class="t b" style="left:517px;top:3.0px;width:62px;text-align:center"><span id="t114" style="transform:translateX(0.20px) scaleX(1.1000);transform-origin:center center;">Won</span></div>
<div class="t b" style="left:581px;top:3.0px;width:62px;text-align:center"><span id="t115" style="transform:translateX(0.50px) scaleX(0.9460);transform-origin:center center;">Lost</span></div>
<div class="t b" style="left:645px;top:3.0px;width:62px;text-align:center"><span id="t116" style="transform:translateX(1.10px) scaleX(0.9700);transform-origin:center center;">Pct</span></div>
<div class="t b" style="left:423px;top:24.0px;width:92px;text-align:center"><span id="t117" style="font-size:11.4px;transform:translateX(0.50px) scaleX(1.0000);transform-origin:center center;">Grand Total</span></div>
<div class="t b" style="left:517px;top:24.0px;width:62px;text-align:center"><span id="t118" style="transform:translateX(0.80px) scaleX(1.0000);transform-origin:center center;">391</span></div>
<div class="t b" style="left:581px;top:24.0px;width:62px;text-align:center"><span id="t119" style="transform:translateX(0.80px) scaleX(1.0000);transform-origin:center center;">186</span></div>
<div class="t b" style="left:645px;top:24.0px;width:62px;text-align:center"><span id="t120" style="transform:translateX(1.10px) scaleX(1.0000);transform-origin:center center;">0,678</span></div>
<div class="t n" style="left:423px;top:44.0px;width:92px;text-align:center"><span id="t121" style="transform:translateX(0.75px) scaleX(1.0650);transform-origin:center center;">1st set</span></div>
<div class="t n" style="left:517px;top:44.0px;width:62px;text-align:center"><span id="t122" style="transform:translateX(0.55px) scaleX(1.0500);transform-origin:center center;">388</span></div>
<div class="t n" style="left:581px;top:44.0px;width:62px;text-align:center"><span id="t123" style="transform:translateX(0.55px) scaleX(1.0500);transform-origin:center center;">187</span></div>
<div class="t n" style="left:645px;top:44.0px;width:62px;text-align:center"><span id="t124" style="transform:translateX(0.85px) scaleX(1.0500);transform-origin:center center;">0,675</span></div>
<div class="t n" style="left:423px;top:65.0px;width:92px;text-align:center"><span id="t125" style="transform:translateX(1.25px) scaleX(1.0700);transform-origin:center center;">Winning 1st set</span></div>
<div class="t n" style="left:517px;top:65.0px;width:62px;text-align:center"><span id="t126" style="transform:translateX(0.55px) scaleX(1.0500);transform-origin:center center;">348</span></div>
<div class="t n" style="left:581px;top:65.0px;width:62px;text-align:center"><span id="t127" style="transform:translateX(0.55px) scaleX(1.0500);transform-origin:center center;">40</span></div>
<div class="t n" style="left:645px;top:65.0px;width:62px;text-align:center"><span id="t128" style="transform:translateX(0.85px) scaleX(1.0500);transform-origin:center center;">0,897</span></div>
<div class="t n" style="left:423px;top:86.0px;width:92px;text-align:center"><span id="t129" style="transform:translateX(1.05px) scaleX(1.0300);transform-origin:center center;">Losing 1st set</span></div>
<div class="t n" style="left:517px;top:86.0px;width:62px;text-align:center"><span id="t130" style="transform:translateX(0.55px) scaleX(1.0500);transform-origin:center center;">42</span></div>
<div class="t n" style="left:581px;top:86.0px;width:62px;text-align:center"><span id="t131" style="transform:translateX(0.55px) scaleX(1.0500);transform-origin:center center;">145</span></div>
<div class="t n" style="left:645px;top:86.0px;width:62px;text-align:center"><span id="t132" style="transform:translateX(0.85px) scaleX(1.0500);transform-origin:center center;">0,225</span></div>
<div class="t n" style="left:423px;top:106.0px;width:92px;text-align:center"><span id="t133" style="transform:translateX(0.55px) scaleX(1.0460);transform-origin:center center;">Deciding set</span></div>
<div class="t n" style="left:517px;top:106.0px;width:62px;text-align:center"><span id="t134" style="transform:translateX(0.55px) scaleX(1.0500);transform-origin:center center;">87</span></div>
<div class="t n" style="left:581px;top:106.0px;width:62px;text-align:center"><span id="t135" style="transform:translateX(0.55px) scaleX(1.0500);transform-origin:center center;">69</span></div>
<div class="t n" style="left:645px;top:106.0px;width:62px;text-align:center"><span id="t136" style="transform:translateX(0.85px) scaleX(1.0500);transform-origin:center center;">0,558</span></div>
<div class="t n" style="left:423px;top:126.0px;width:92px;text-align:center"><span id="t137" style="transform:translateX(0.25px) scaleX(1.0270);transform-origin:center center;">DS* defending</span></div>
<div class="t n" style="left:517px;top:126.0px;width:62px;text-align:center"><span id="t138" style="transform:translateX(0.55px) scaleX(1.0500);transform-origin:center center;">46</span></div>
<div class="t n" style="left:581px;top:126.0px;width:62px;text-align:center"><span id="t139" style="transform:translateX(0.55px) scaleX(1.0500);transform-origin:center center;">39</span></div>
<div class="t n" style="left:645px;top:126.0px;width:62px;text-align:center"><span id="t140" style="transform:translateX(0.85px) scaleX(1.0500);transform-origin:center center;">0,541</span></div>
<div class="t n" style="left:423px;top:147.0px;width:92px;text-align:center"><span id="t141" style="transform:translateX(0.25px) scaleX(1.0100);transform-origin:center center;">DS* come back</span></div>
<div class="t n" style="left:517px;top:147.0px;width:62px;text-align:center"><span id="t142" style="transform:translateX(0.55px) scaleX(1.0500);transform-origin:center center;">41</span></div>
<div class="t n" style="left:581px;top:147.0px;width:62px;text-align:center"><span id="t143" style="transform:translateX(0.55px) scaleX(1.0500);transform-origin:center center;">30</span></div>
<div class="t n" style="left:645px;top:147.0px;width:62px;text-align:center"><span id="t144" style="transform:translateX(0.85px) scaleX(1.0500);transform-origin:center center;">0,577</span></div>
<div class="t n" style="left:423px;top:167.0px;width:92px;text-align:center"><span id="t145" style="transform:translateX(0.55px) scaleX(1.0470);transform-origin:center center;">Not drop a set</span></div>
<div class="t n" style="left:517px;top:167.0px;width:62px;text-align:center"><span id="t146" style="transform:translateX(0.55px) scaleX(1.0500);transform-origin:center center;">303</span></div>
<div class="t n" style="left:645px;top:167.0px;width:62px;text-align:center"><span id="t147" style="transform:translateX(0.85px) scaleX(1.0500);transform-origin:center center;">0,525</span></div>
<div class="t n" style="left:423px;top:187.0px;width:92px;text-align:center"><span id="t148" style="transform:translateX(0.75px) scaleX(1.0460);transform-origin:center center;">Not gain a set</span></div>
<div class="t n" style="left:581px;top:187.0px;width:62px;text-align:center"><span id="t149" style="transform:translateX(0.55px) scaleX(1.0500);transform-origin:center center;">116</span></div>
<div class="t n" style="left:645px;top:187.0px;width:62px;text-align:center"><span id="t150" style="transform:translateX(0.85px) scaleX(1.0500);transform-origin:center center;">0,201</span></div>
<div class="t n" style="left:423px;top:208.0px;width:92px;text-align:center"><span id="t151" style="transform:translateX(0.25px) scaleX(1.0730);transform-origin:center center;">Walkover</span></div>
<div class="t n" style="left:517px;top:208.0px;width:62px;text-align:center"><span id="t152" style="transform:translateX(0.55px) scaleX(1.0500);transform-origin:center center;">4</span></div>
<div class="t n" style="left:581px;top:208.0px;width:62px;text-align:center"><span id="t153" style="transform:translateX(0.55px) scaleX(1.0500);transform-origin:center center;">3</span></div>
<div class="t n" style="left:421px;top:229.0px;width:199px;text-align:left"><span id="t154" style="transform:translateX(0.00px) scaleX(1.0000);transform-origin:left center;">*DS = Deciding set</span></div>
</div>
</body></html>
